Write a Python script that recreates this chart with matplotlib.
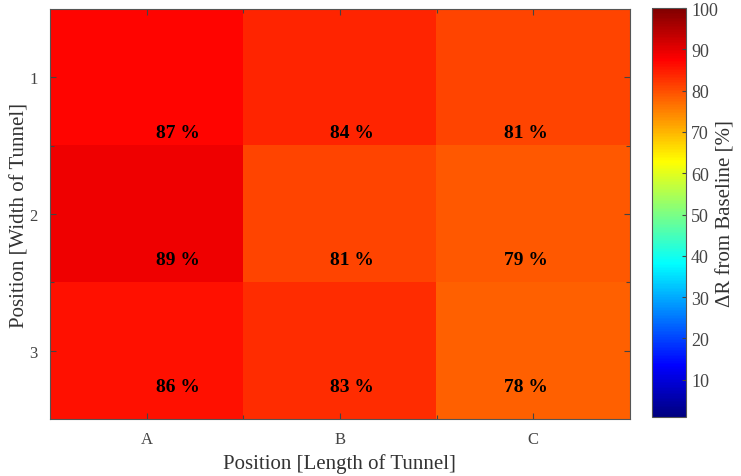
import numpy as np
import matplotlib
matplotlib.use("Agg")
import matplotlib.pyplot as plt
from matplotlib.colors import LinearSegmentedColormap

plt.rcParams['font.family'] = ['Liberation Serif', 'DejaVu Serif']

# change in resistance per sensor position
cols = ['A', 'B', 'C']
rows = ['1', '2', '3']
dR = np.array([
    [87, 84, 81],
    [89, 81, 79],
    [86, 83, 78],
])

# MATLAB style jet
jet_m = LinearSegmentedColormap.from_list('jet_m', [
    (0.0, (0, 0, 0.5)),
    (0.125, (0, 0, 1)),
    (0.375, (0, 1, 1)),
    (0.625, (1, 1, 0)),
    (0.875, (1, 0, 0)),
    (1.0, (0.5, 0, 0)),
], N=256)

fig = plt.figure(figsize=(7.41, 4.77), dpi=100)
ax = fig.add_axes([0.0675, 0.1195, 0.7825, 0.8595])
cax = fig.add_axes([0.880, 0.124, 0.046, 0.857])

im = ax.imshow(dR, cmap=jet_m, vmin=1, vmax=100, aspect='auto',
               extent=[0.5, 3.5, 3.5, 0.5], interpolation='nearest')

# value labels sit low and right in each cell
for i in range(len(rows)):
    for j in range(len(cols)):
        ax.text(1.16 + 0.9 * j, 1.40 + 0.93 * i, "%d %%" % dR[i, j],
                ha='center', va='center', fontsize=14, fontweight='bold',
                color='black')

ax.set_xticks([1, 2, 3])
ax.set_xticklabels(cols)
ax.set_yticks([1, 2, 3])
ax.set_yticklabels(rows)
ax.set_xticks([1.5, 2.5], minor=True)
ax.set_yticks([1.5, 2.5], minor=True)
ax.tick_params(which='both', direction='in', top=True, right=True,
               colors='#444444', labelsize=12, length=4, width=0.8, pad=9)
ax.tick_params(which='minor', length=3)
for s in ax.spines.values():
    s.set_color('#555555')
    s.set_linewidth(0.8)
ax.set_xlabel('Position [Length of Tunnel]', fontsize=15, color='#333333')
ax.set_ylabel('Position [Width of Tunnel]', fontsize=15, color='#333333',
              labelpad=0)

cb = fig.colorbar(im, cax=cax)
cb.set_ticks(np.arange(10, 101, 10))
cb.ax.tick_params(direction='in', labelsize=13, colors='#444444', length=3,
                  width=0.8)
cb.outline.set_edgecolor('#555555')
cb.outline.set_linewidth(0.8)
cb.set_label('ΔR from Baseline [%]', fontsize=15, color='#333333', labelpad=-1)

fig.savefig('out.png', dpi=100)
